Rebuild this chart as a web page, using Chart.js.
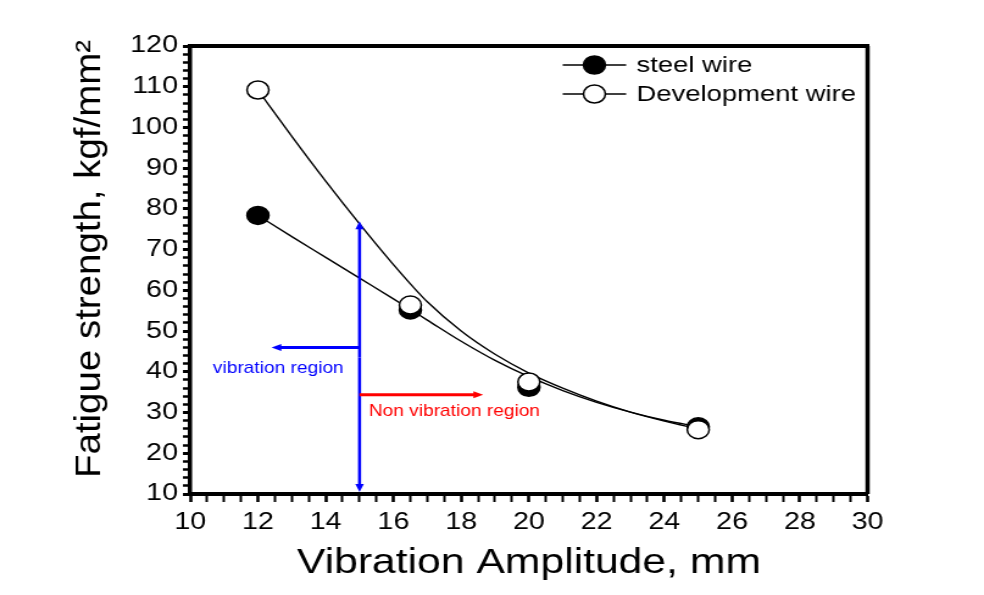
<!DOCTYPE html>
<html>
<head>
<meta charset="utf-8">
<script src="https://cdn.jsdelivr.net/npm/chart.js@4.4.1/dist/chart.umd.min.js"></script>
<style>
  html, body { margin: 0; padding: 0; background: #fff; }
</style>
</head>
<body>
<!-- the original figure is stretched sideways, so the canvas is too -->
<canvas id="chart" width="807" height="595" style="width:984px;height:595px"></canvas>
<script>
// Measured points
const amplitude = [12, 16.5, 20, 25];
const steelWire = [78.4, 55.2, 36.2, 26.5];
const developmentWire = [109.2, 56.4, 37.5, 25.8];
const seriesLabels = ['steel wire', 'Development wire'];

// Smoothed curves (they don't pass exactly through the points)
const fitX = [12, 13, 14, 15, 16, 16.5, 17, 18, 19, 20, 21, 22, 23, 24, 25];
const steelFit = [78.4, 73.2, 68.1, 63.0, 57.9, 55.3, 52.7, 47.5, 42.8, 38.8, 35.4, 32.5, 30.1, 28.1, 26.5];
const developmentFit = [109.2, 97.8, 86.8, 76.3, 66.3, 61.6, 57.2, 50.0, 44.3, 39.7, 36.0, 32.8, 30.1, 27.9, 26.0];

// Axis ranges / tick labels
const xRange = [10, 30];
const yRange = [10, 120];
const xTickLabels = [10, 12, 14, 16, 18, 20, 22, 24, 26, 28, 30];
const yTickLabels = [10, 20, 30, 40, 50, 60, 70, 80, 90, 100, 110, 120];

// Annotation arrows (data units)
const boundaryLine = [15, 77, 10];           // x, y top, y bottom
const vibrationArrow = [15, 12.4, 46];       // x from, x to, y
const nonVibrationArrow = [15, 18.65, 34.4]; // x from, x to, y
const vibrationText = ['vibration region', 12.6, 40.7];
const nonVibrationText = ['Non vibration region', 17.8, 30.1];
const yTitle = 'Fatigue strength, kgf/mm²';

const FONT = "'Liberation Sans', Arial, sans-serif";
Chart.defaults.font.family = FONT;
Chart.defaults.color = '#000';

function arrow(ctx, x1, y1, x2, y2, color, width) {
    const ang = Math.atan2(y2 - y1, x2 - x1);
    const head = 8, wing = 3.5;
    ctx.strokeStyle = color;
    ctx.fillStyle = color;
    ctx.lineWidth = width;
    ctx.beginPath();
    ctx.moveTo(x1, y1);
    ctx.lineTo(x2 - Math.cos(ang) * head * 0.8, y2 - Math.sin(ang) * head * 0.8);
    ctx.stroke();
    ctx.beginPath();
    ctx.moveTo(x2, y2);
    ctx.lineTo(x2 - Math.cos(ang) * head + Math.sin(ang) * wing, y2 - Math.sin(ang) * head - Math.cos(ang) * wing);
    ctx.lineTo(x2 - Math.cos(ang) * head - Math.sin(ang) * wing, y2 - Math.sin(ang) * head + Math.cos(ang) * wing);
    ctx.closePath();
    ctx.fill();
}

const extras = {
    id: 'extras',
    afterDraw(chart) {
        const ctx = chart.ctx;
        const xs = chart.scales.x, ys = chart.scales.y;
        const area = chart.chartArea;
        ctx.save();

        // frame on top and right
        ctx.strokeStyle = '#000';
        ctx.lineWidth = 4;
        ctx.beginPath();
        ctx.moveTo(area.left, area.top);
        ctx.lineTo(area.right + 1.5, area.top);
        ctx.stroke();
        ctx.lineWidth = 3.5;
        ctx.beginPath();
        ctx.moveTo(area.right, area.top);
        ctx.lineTo(area.right, area.bottom);
        ctx.stroke();

        // boundary line, heads on both ends
        const bx = xs.getPixelForValue(boundaryLine[0]);
        const yTop = ys.getPixelForValue(boundaryLine[1]);
        const yBot = ys.getPixelForValue(boundaryLine[2]);
        const yMid = (yTop + yBot) / 2;
        arrow(ctx, bx, yMid, bx, yTop, '#0000ff', 2.5);
        arrow(ctx, bx, yMid, bx, yBot - 2, '#0000ff', 2.5);

        arrow(ctx, xs.getPixelForValue(vibrationArrow[0]), ys.getPixelForValue(vibrationArrow[2]),
              xs.getPixelForValue(vibrationArrow[1]), ys.getPixelForValue(vibrationArrow[2]), '#0000ff', 3);
        arrow(ctx, xs.getPixelForValue(nonVibrationArrow[0]), ys.getPixelForValue(nonVibrationArrow[2]),
              xs.getPixelForValue(nonVibrationArrow[1]), ys.getPixelForValue(nonVibrationArrow[2]), '#ff0000', 3);

        ctx.font = '15.7px ' + FONT;
        ctx.textAlign = 'center';
        ctx.textBaseline = 'middle';
        ctx.fillStyle = '#0000ff';
        ctx.fillText(vibrationText[0], xs.getPixelForValue(vibrationText[1]), ys.getPixelForValue(vibrationText[2]));
        ctx.fillStyle = '#ff0000';
        ctx.fillText(nonVibrationText[0], xs.getPixelForValue(nonVibrationText[1]), ys.getPixelForValue(nonVibrationText[2]));

        // y axis title, stretched along its length like the original
        ctx.save();
        ctx.translate(82, (area.top + area.bottom) / 2 - 11);
        ctx.rotate(-Math.PI / 2);
        ctx.scale(1.34, 1);
        ctx.fillStyle = '#000';
        ctx.font = '28.7px ' + FONT;
        ctx.textAlign = 'center';
        ctx.textBaseline = 'alphabetic';
        ctx.fillText(yTitle, 0, 0);
        ctx.restore();

        // legend
        const lx = area.right - 250, ly = area.top + 19, gap = 29;
        chart.data.datasets.filter(ds => ds.showLine === false).forEach((ds, i) => {
            const y = ly + i * gap;
            ctx.strokeStyle = '#000';
            ctx.lineWidth = 1.5;
            ctx.beginPath();
            ctx.moveTo(lx, y);
            ctx.lineTo(lx + 52, y);
            ctx.stroke();
            ctx.beginPath();
            ctx.arc(lx + 26, y, ds.pointRadius, 0, Math.PI * 2);
            ctx.fillStyle = ds.pointBackgroundColor;
            ctx.fill();
            ctx.lineWidth = ds.pointBorderWidth;
            ctx.stroke();
            ctx.fillStyle = '#000';
            ctx.font = '22.5px ' + FONT;
            ctx.textAlign = 'left';
            ctx.textBaseline = 'middle';
            ctx.fillText(ds.label, lx + 60.5, y + 1);
        });
        ctx.restore();
    }
};

function toPoints(xs, values) {
    return xs.map((x, i) => ({ x: x, y: values[i] }));
}

function curve(label, xs, values, order) {
    return {
        label: label,
        data: toPoints(xs, values),
        borderColor: '#000',
        borderWidth: 1.4,
        pointRadius: 0,
        cubicInterpolationMode: 'monotone',
        order: order
    };
}

function markers(label, values, fill, order) {
    return {
        label: label,
        data: toPoints(amplitude, values),
        showLine: false,
        pointRadius: 9,
        pointBackgroundColor: fill,
        pointBorderColor: '#000',
        pointBorderWidth: 1.5,
        order: order
    };
}

const tickOpts = labels => ({
    autoSkip: false,
    maxRotation: 0,
    font: { size: 23.5 },
    color: '#000',
    callback: v => labels.includes(v) ? String(v) : ''
});

new Chart(document.getElementById('chart'), {
    type: 'line',
    data: {
        datasets: [
            curve(seriesLabels[0] + ' curve', fitX, steelFit, 3),
            curve(seriesLabels[1] + ' curve', fitX, developmentFit, 2),
            markers(seriesLabels[0], steelWire, '#000', 1),
            markers(seriesLabels[1], developmentWire, '#fff', 0)
        ]
    },
    options: {
        responsive: false,
        animation: false,
        layout: { padding: { top: 46, right: 95.5, left: 0, bottom: 0 } },
        plugins: { legend: { display: false }, tooltip: { enabled: false } },
        scales: {
            x: {
                type: 'linear',
                min: xRange[0],
                max: xRange[1],
                afterFit: s => { s.height = 101; },
                ticks: Object.assign(tickOpts(xTickLabels), { stepSize: 0.5, padding: 6 }),
                grid: {
                    drawOnChartArea: false,
                    drawTicks: true,
                    tickLength: 8,
                    tickColor: '#000',
                    tickWidth: c => xTickLabels.includes(c.tick && c.tick.value) ? 2.6 : 2
                },
                border: { display: true, color: '#000', width: 4 },
                title: {
                    display: true,
                    text: 'Vibration Amplitude, mm',
                    font: { size: 35 },
                    color: '#000',
                    padding: { top: 0, bottom: 11 }
                }
            },
            y: {
                min: yRange[0],
                max: yRange[1],
                afterFit: s => { s.width = 156; },
                ticks: Object.assign(tickOpts(yTickLabels), { stepSize: 2, padding: 4 }),
                grid: {
                    drawOnChartArea: false,
                    drawTicks: true,
                    tickLength: 6,
                    tickColor: '#000',
                    tickWidth: c => yTickLabels.includes(c.tick && c.tick.value) ? 3 : 2.5
                },
                border: { display: true, color: '#000', width: 3.5 }
            }
        }
    },
    plugins: [extras]
});
</script>
</body>
</html>
